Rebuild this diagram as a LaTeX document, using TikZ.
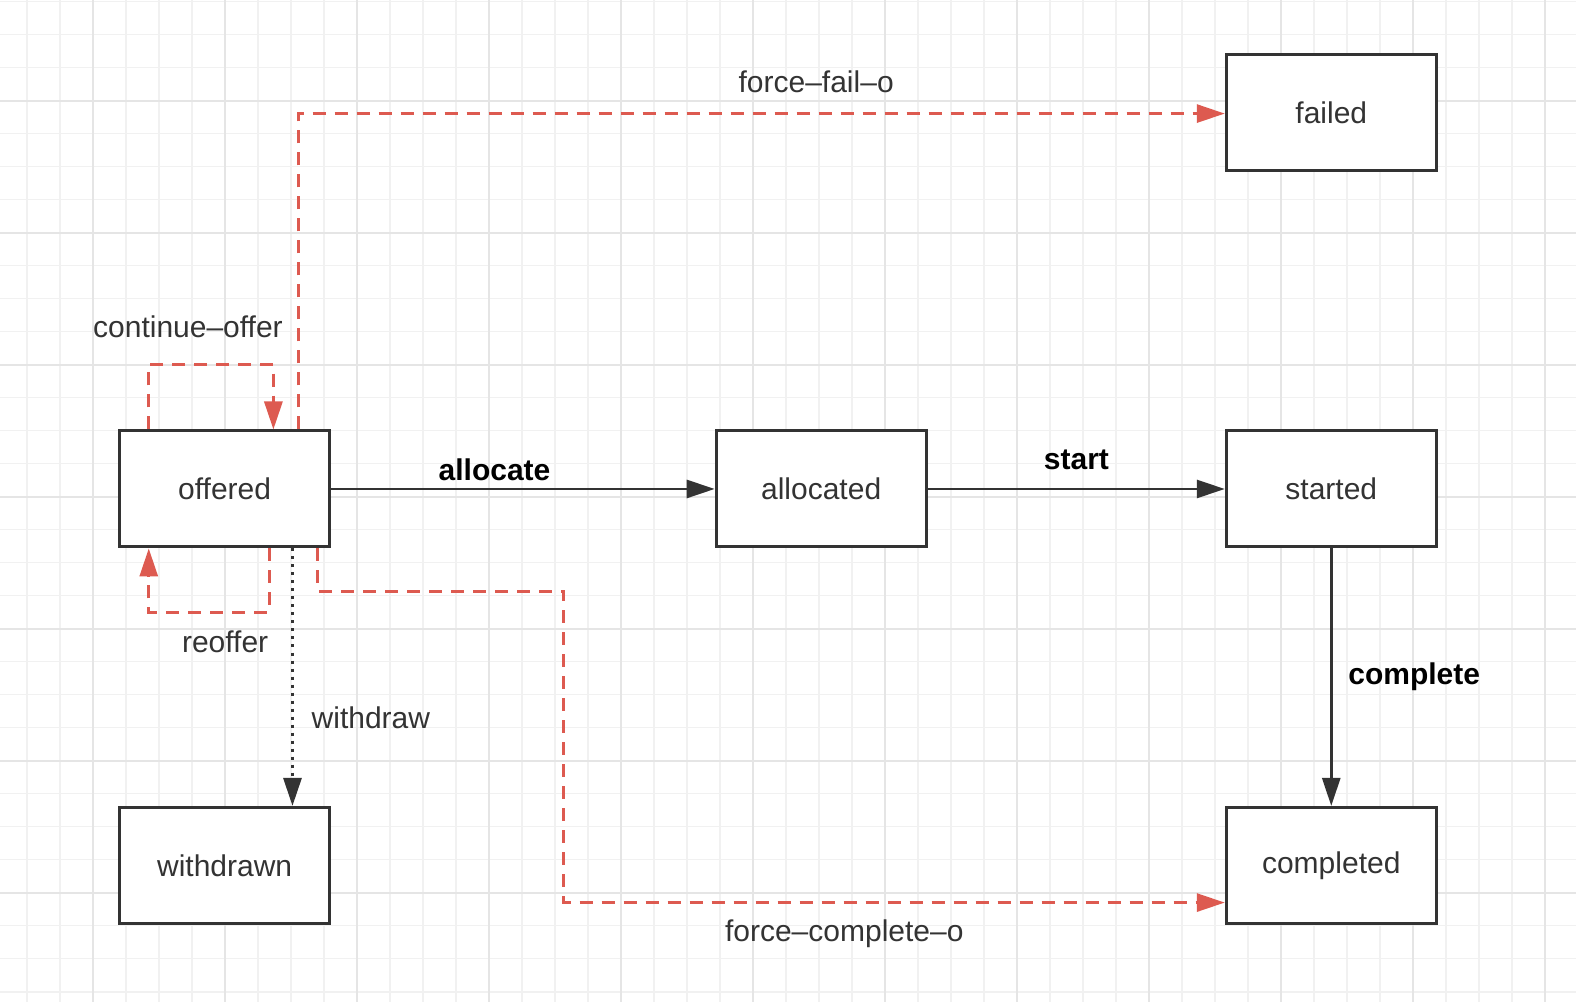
\documentclass[tikz,border=0pt]{standalone}
\usepackage{fontspec}
\setmainfont{Liberation Sans}
\usetikzlibrary{arrows.meta}
\definecolor{inkgray}{HTML}{333333}
\definecolor{forcered}{HTML}{DD5A50}
\definecolor{gridminor}{HTML}{F1F1F1}
\definecolor{gridmajor}{HTML}{E5E5E5}
\begin{document}
\begin{tikzpicture}[x=0.5025pt,y=-0.5025pt,
  state/.style={draw=inkgray,line width=1.5pt,fill=white,minimum width=105pt,minimum height=58pt,text=inkgray,font=\fontsize{15}{18}\selectfont},
  lbl/.style={text=inkgray,font=\fontsize{15}{18}\selectfont},
  boldlbl/.style={text=black,font=\fontsize{15}{18}\selectfont\bfseries},
  tip/.style={-{Triangle[length=14pt,width=9pt]}},
  flow/.style={tip,draw=inkgray,line width=1.4pt},
  forced/.style={tip,draw=forcered,line width=1.5pt,dash pattern=on 6.5pt off 4.5pt},
  dotflow/.style={tip,draw=inkgray,line width=1.5pt,dash pattern=on 1.5pt off 2.5pt}]
\useasboundingbox (0,0) rectangle (1568,997);
\fill[white] (0,0) rectangle (1568,997);
\begin{scope}[x=0.5pt,y=-0.5pt]
\foreach \i in {0,...,46} \draw[gridminor,line width=0.9pt] (26.7+33*\i,0) -- (26.7+33*\i,1002);
\foreach \j in {0,...,30} \draw[gridminor,line width=0.9pt] (0,1.5+33*\j) -- (1576,1.5+33*\j);
\foreach \i in {2,6,...,46} \draw[gridmajor,line width=1pt] (26.7+33*\i,0) -- (26.7+33*\i,1002);
\foreach \j in {3,7,...,27} \draw[gridmajor,line width=1pt] (0,1.5+33*\j) -- (1576,1.5+33*\j);
\end{scope}
\node[state] (offered) at (223.5,486.5) {offered};
\node[state] (allocated) at (817,486.5) {allocated};
\node[state] (started) at (1324.5,486.5) {started};
\node[state] (failed) at (1324.5,112) {failed};
\node[state] (withdrawn) at (223.5,861) {withdrawn};
\node[state] (completed) at (1324.5,861) {completed};
\coordinate (ffcorner) at (297,113);
\coordinate (coleft) at (148,363);
\coordinate (coright) at (272,363);
\coordinate (roright) at (268,609);
\coordinate (roleft) at (148,609);
\coordinate (fcstart) at (316,588);
\coordinate (fcmid) at (561,588);
\coordinate (fcend) at (561,898);
\coordinate (wdline) at (291,700);
\draw[flow] (offered) -- (allocated);
\draw[flow] (allocated) -- (started);
\draw[flow] (started) -- (completed);
\draw[dotflow] (offered.south -| wdline) -- (withdrawn.north -| wdline);
\draw[forced] (offered.north -| ffcorner) -- (ffcorner) -- (ffcorner -| failed.west);
\draw[forced] (offered.north -| coleft) -- (coleft) -- (coright) -- (offered.north -| coright);
\draw[forced] (offered.south -| roright) -- (roright) -- (roleft) -- (offered.south -| roleft);
\draw[forced] (offered.south -| fcstart) -- (fcstart) -- (fcmid) -- (fcend) -- (fcend -| completed.west);
\node[boldlbl] (allocatelbl) at (492,467) {allocate};
\node[boldlbl] (startlbl) at (1071,458) {start};
\node[boldlbl] (completelbl) at (1407,673) {complete};
\node[lbl] (withdrawlbl) at (369,714) {withdraw};
\node[lbl] (faillbl) at (812,81) {force–fail–o};
\node[lbl] (continuelbl) at (187,325) {continue–offer};
\node[lbl] (reofferlbl) at (224,639) {reoffer};
\node[lbl] (forcecompletelbl) at (840,929) {force–complete–o};
\end{tikzpicture}
\end{document}
